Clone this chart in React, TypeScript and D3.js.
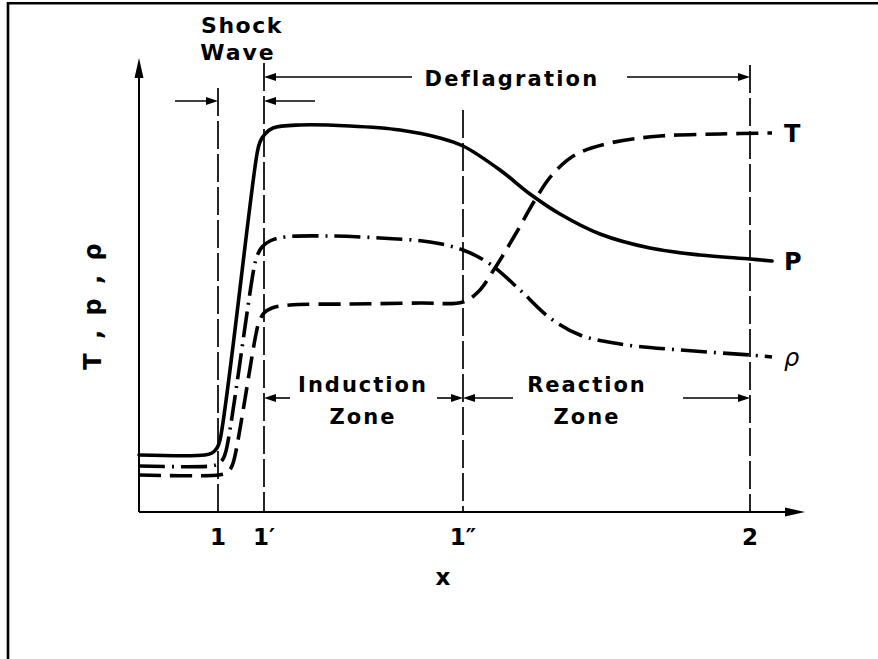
import React from "react";
import * as d3 from "d3";

// Abstract units: x along the tube, y = magnitude of T, p, rho
const pressureCurve: [number, number][] = [
  [0, 57], [66, 57], [73, 59], [78, 64], [81, 72], [118, 358], [121, 370], [126, 378], [134, 384],
  [161, 387], [211, 386], [261, 382], [301, 374], [324, 366], [361, 342],
  [391, 318], [421, 298], [461, 278], [511, 264], [561, 257], [611, 253], [633, 251],
];
const densityCurve: [number, number][] = [
  [0, 46], [72, 46], [79, 48], [84, 53], [87, 61], [115, 244], [118, 256], [123, 265], [131, 271],
  [146, 275], [191, 276], [241, 274], [291, 270], [324, 262], [351, 248],
  [381, 222], [411, 194], [441, 177], [481, 168], [541, 162], [611, 157], [633, 155],
];
const temperatureCurve: [number, number][] = [
  [0, 37], [80, 37], [87, 39], [92, 44], [95, 52], [117, 178], [120, 190], [125, 199], [133, 204],
  [151, 207], [211, 208], [281, 209], [324, 210], [339, 220], [356, 244],
  [376, 277], [396, 312], [413, 337], [436, 357], [471, 369], [521, 376],
  [581, 378], [633, 379],
];
const curveLabels = ["T", "P", "ρ"];

const markerPositions = [79, 125, 324, 611];
const markerLabels = ["1", "1′", "1″", "2"];
const markerTops = [424, 449, 402, 447];

const xDomain = [0, 666];
const yDomain = [0, 454];

export default function App() {
  const W = 878;
  const H = 659;
  const x = d3.scaleLinear().domain(xDomain).range([139, 805]);
  const y = d3.scaleLinear().domain(yDomain).range([512, 58]);
  const line = d3
    .line<[number, number]>()
    .x((d) => x(d[0]))
    .y((d) => y(d[1]))
    .curve(d3.curveCatmullRom.alpha(0.5));

  const font = "'DejaVu Sans', sans-serif";
  const curveStroke = 3.6;

  const arrowHead = (tipX: number, tipY: number, dir: number, len = 12, half = 4) =>
    `M${tipX},${tipY} L${tipX - dir * len},${tipY - half} L${tipX - dir * len},${tipY + half} Z`;

  const hArrow = (fromData: number, toData: number, yPx: number, key: string) => {
    const x1 = x(fromData);
    const x2 = x(toData);
    const dir = x2 > x1 ? 1 : -1;
    return (
      <g key={key}>
        <line x1={x1} x2={x2 - dir * 6} y1={yPx} y2={yPx} stroke="#000" strokeWidth={1.6} />
        <path d={arrowHead(x2, yPx, dir)} fill="#000" />
      </g>
    );
  };

  const last = (a: [number, number][]) => a[a.length - 1];
  const ends = [last(temperatureCurve), last(pressureCurve), last(densityCurve)];

  const textStyle: React.CSSProperties = {
    fontFamily: font,
    fontWeight: "bold",
    fill: "#000",
  };

  return (
    <svg
      width={W}
      height={H}
      style={{ position: "absolute", left: 0, top: 0, background: "#fff" }}
    >
      <rect x={0} y={0} width={W} height={H} fill="#fff" />
      {/* frame */}
      <line x1={7} x2={W} y1={3.3} y2={3.3} stroke="#000" strokeWidth={2.6} />
      <line x1={8} x2={8} y1={2} y2={H} stroke="#000" strokeWidth={2.6} />

      {/* axes */}
      <line x1={x(0)} x2={x(0)} y1={y(0)} y2={y(yDomain[1]) + 14} stroke="#000" strokeWidth={2} />
      <path d={`M${x(0)},${y(yDomain[1])} L${x(0) - 4.5},${y(yDomain[1]) + 20} L${x(0) + 4.5},${y(yDomain[1]) + 20} Z`} fill="#000" />
      <line x1={x(0)} x2={x(xDomain[1]) - 14} y1={y(0)} y2={y(0)} stroke="#000" strokeWidth={2} />
      <path d={`M${x(xDomain[1])},${y(0)} L${x(xDomain[1]) - 20},${y(0) - 4.5} L${x(xDomain[1]) - 20},${y(0) + 4.5} Z`} fill="#000" />

      {/* vertical station lines */}
      {markerPositions.map((m, i) => (
        <line
          key={"v" + i}
          x1={x(m)}
          x2={x(m)}
          y1={y(markerTops[i])}
          y2={y(0)}
          stroke="#000"
          strokeWidth={1.7}
          strokeDasharray="28 5"
        />
      ))}

      {/* station labels */}
      {markerPositions.map((m, i) => (
        <text key={"t" + i} x={x(m)} y={545} textAnchor="middle" style={{ ...textStyle, fontSize: 23 }}>
          {markerLabels[i]}
        </text>
      ))}
      <text x={443} y={585} textAnchor="middle" style={{ ...textStyle, fontSize: 23 }}>
        x
      </text>

      {/* y label */}
      <text
        transform={`translate(101,305) rotate(-90)`}
        textAnchor="middle"
        style={{ ...textStyle, fontSize: 24, letterSpacing: 3 }}
      >
        T , p , ρ
      </text>

      {/* curves */}
      <path d={line(pressureCurve) || ""} fill="none" stroke="#000" strokeWidth={curveStroke} strokeLinecap="round" />
      <path d={line(densityCurve) || ""} fill="none" stroke="#000" strokeWidth={curveStroke} strokeDasharray="26 7 2 7" />
      <path d={line(temperatureCurve) || ""} fill="none" stroke="#000" strokeWidth={curveStroke} strokeDasharray="22 9" />

      {/* curve end labels */}
      {ends.map((e, i) => (
        <text
          key={"c" + i}
          x={x(e[0]) + 12}
          y={y(e[1]) + 9}
          style={{ ...textStyle, fontSize: 24, fontWeight: i === 2 ? "normal" : "bold", fontStyle: i === 2 ? "italic" : "normal" }}
        >
          {curveLabels[i]}
        </text>
      ))}

      {/* shock wave annotation */}
      <text x={242} y={33} textAnchor="middle" style={{ ...textStyle, fontSize: 22, letterSpacing: 1.5 }}>
        Shock
      </text>
      <text x={238} y={60} textAnchor="middle" style={{ ...textStyle, fontSize: 22, letterSpacing: 2 }}>
        Wave
      </text>
      {hArrow(36, markerPositions[0], 101, "s1")}
      {hArrow(176, markerPositions[1], 101, "s2")}

      {/* deflagration */}
      {hArrow(273, markerPositions[1], 77, "d1")}
      {hArrow(488, markerPositions[3], 77, "d2")}
      <text x={512} y={86} textAnchor="middle" style={{ ...textStyle, fontSize: 21, letterSpacing: 2.2 }}>
        Deflagration
      </text>

      {/* zones */}
      <text x={363} y={392} textAnchor="middle" style={{ ...textStyle, fontSize: 21, letterSpacing: 2 }}>
        Induction
      </text>
      <text x={363} y={424} textAnchor="middle" style={{ ...textStyle, fontSize: 21, letterSpacing: 2 }}>
        Zone
      </text>
      <text x={587} y={392} textAnchor="middle" style={{ ...textStyle, fontSize: 21, letterSpacing: 2 }}>
        Reaction
      </text>
      <text x={587} y={424} textAnchor="middle" style={{ ...textStyle, fontSize: 21, letterSpacing: 2 }}>
        Zone
      </text>
      {hArrow(151, markerPositions[1], 398, "z1")}
      {hArrow(298, markerPositions[2], 398, "z2")}
      {hArrow(374, markerPositions[2], 398, "z3")}
      {hArrow(544, markerPositions[3], 398, "z4")}
    </svg>
  );
}
